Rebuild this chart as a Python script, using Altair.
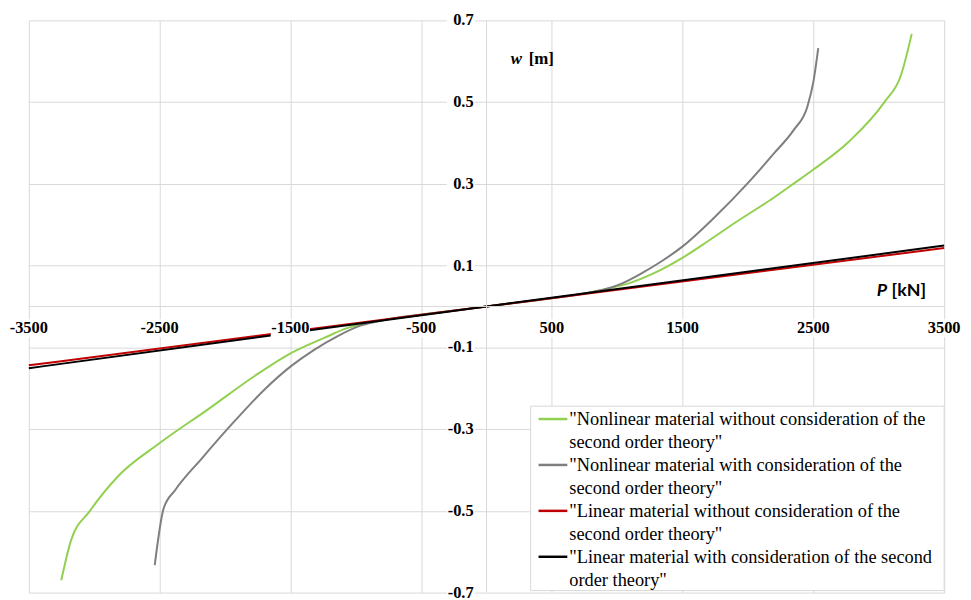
import altair as alt
import pandas as pd

# ---------------- data ----------------
SERIES = [
    '"Nonlinear material without consideration of the|second order theory"',
    '"Nonlinear material with consideration of the|second order theory"',
    '"Linear material without consideration of the|second order theory"',
    '"Linear material with consideration of the second|order theory"',
]
COLORS = ["#92D050", "#7F7F7F", "#C00000", "#000000"]

green_P = [-3252, -3176, -3037, -2810, -2507, -2127, -1773, -1495, -1242, -1066, -914, -700, -400, 0,
           400, 700, 932, 1083, 1285, 1488, 1690, 1892, 2196, 2347, 2500, 2777, 3043, 3169, 3252]
green_w = [-0.670, -0.571, -0.502, -0.413, -0.336, -0.251, -0.170, -0.114, -0.077, -0.053, -0.041, -0.029, -0.016, 0.0,
           0.016, 0.029, 0.044, 0.056, 0.082, 0.117, 0.159, 0.203, 0.266, 0.300, 0.335, 0.405, 0.500, 0.565, 0.667]

gray_P = [-2537, -2469, -2380, -2178, -1925, -1697, -1495, -1318, -1141, -965, -750, -400, 0,
          400, 679, 906, 1033, 1185, 1336, 1500, 1750, 1993, 2200, 2350, 2455, 2500, 2537]
gray_w = [-0.633, -0.494, -0.449, -0.372, -0.280, -0.203, -0.146, -0.106, -0.073, -0.047, -0.031, -0.016, 0.0,
          0.016, 0.028, 0.042, 0.056, 0.081, 0.110, 0.147, 0.220, 0.300, 0.375, 0.432, 0.490, 0.550, 0.632]

red_P = [-3500, 0, 3500]
red_w = [-0.144, 0.0, 0.143]

black_P = [-3500, 0, 3500]
black_w = [-0.151, 0.0, 0.149]

x_ticks = [-3500, -2500, -1500, -500, 500, 1500, 2500, 3500]
x_tick_labels = ["-3500", "-2500", "-1500", "-500", "500", "1500", "2500", "3500"]
y_ticks = [0.7, 0.5, 0.3, 0.1, -0.1, -0.3, -0.5, -0.7]
y_tick_labels = ["0.7", "0.5", "0.3", "0.1", "-0.1", "-0.3", "-0.5", "-0.7"]

# ---------------- tables ----------------
rows = []
for name, Ps, ws in zip(SERIES, [green_P, gray_P, red_P, black_P], [green_w, gray_w, red_w, black_w]):
    for p, w in zip(Ps, ws):
        rows.append({"series": name, "P": p, "w": w})
df = pd.DataFrame(rows)

xt = pd.DataFrame({"P": x_ticks, "lab": x_tick_labels})
yt = pd.DataFrame({"v": y_ticks, "lab": y_tick_labels})
leg = pd.DataFrame({"series": SERIES, "col": COLORS, "idx": list(range(len(SERIES)))})
one = pd.DataFrame({"k": [0]})

GRID = "#d9d9d9"
SERIF = "Liberation Serif"
W, H = 923, 577

xscale = alt.Scale(domain=[-3500, 3500], nice=False, zero=False)
yscale = alt.Scale(domain=[-0.7, 0.7], nice=False, zero=False)

lines = alt.Chart(df).mark_line(strokeWidth=2, interpolate="monotone").encode(
    x=alt.X("P:Q", scale=xscale,
            axis=alt.Axis(values=x_ticks, grid=True, labels=False, ticks=False, domain=False, title="")),
    y=alt.Y("w:Q", scale=yscale,
            axis=alt.Axis(values=y_ticks, grid=True, labels=False, ticks=False, domain=False, title="")),
    color=alt.Color("series:N", scale=alt.Scale(domain=SERIES, range=COLORS), legend=None),
)

zero_h = alt.Chart(one).mark_rule(color=GRID, strokeWidth=1).encode(
    y=alt.datum(0, scale=yscale))
zero_v = alt.Chart(one).mark_rule(color=GRID, strokeWidth=1).encode(
    x=alt.datum(0, scale=xscale))

xrect = alt.Chart(xt).mark_rect(color="white", yOffset=13, y2Offset=31).transform_calculate(
    x0="datum.P - 150", x1="datum.P + 150"
).encode(
    x=alt.X("x0:Q", scale=xscale), x2="x1:Q",
    y=alt.datum(0, scale=yscale), y2=alt.datum(0),
)
xlab = alt.Chart(xt).mark_text(font=SERIF, fontWeight="bold", fontSize=16.5,
                               color="black", dy=21.5, baseline="middle", align="center").encode(
    x=alt.X("P:Q", scale=xscale), y=alt.datum(0, scale=yscale), text="lab:N")

yrect = alt.Chart(yt).mark_rect(color="white", xOffset=-40, x2Offset=-12, yOffset=-9, y2Offset=9).encode(
    x=alt.datum(0, scale=xscale), x2=alt.datum(0),
    y=alt.Y("v:Q", scale=yscale), y2="v:Q",
)
ylab = alt.Chart(yt).mark_text(font=SERIF, fontWeight="bold", fontSize=16.5,
                               color="black", dx=-13, baseline="middle", align="right").encode(
    x=alt.datum(0, scale=xscale), y=alt.Y("v:Q", scale=yscale), text="lab:N")

t_w = alt.Chart(one).mark_text(text="w", font=SERIF, fontStyle="italic", fontWeight="bold",
                               fontSize=17, align="left", baseline="middle", color="black").encode(
    x=alt.value(486), y=alt.value(39))
t_m = alt.Chart(one).mark_text(text="[m]", font=SERIF, fontWeight="bold",
                               fontSize=17, align="left", baseline="middle", color="black").encode(
    x=alt.value(504), y=alt.value(39))
t_P = alt.Chart(one).mark_text(text="P", font="Lato", fontStyle="italic", fontWeight="bold",
                               fontSize=18, align="left", baseline="middle", color="black", dy=-16).encode(
    x=alt.value(855), y=alt.datum(0, scale=yscale))
t_kN = alt.Chart(one).mark_text(text="[kN]", font="Lato", fontWeight="bold",
                                fontSize=18, align="left", baseline="middle", color="black", dy=-16).encode(
    x=alt.value(870), y=alt.datum(0, scale=yscale))

# ---------------- legend (box, symbols, labels) ----------------
LEG_X, LEG_Y, LEG_X2, LEG_Y2 = 506, 389, 923, 575
leg_box = alt.Chart(one).mark_rect(fill="white", stroke=GRID, strokeWidth=1).encode(
    x=alt.value(LEG_X), x2=alt.value(LEG_X2), y=alt.value(LEG_Y), y2=alt.value(LEG_Y2))
leg_sym = alt.Chart(leg).mark_rule(strokeWidth=2.5).transform_calculate(
    ly="402 + datum.idx * 46.3"
).encode(
    x=alt.value(514), x2=alt.value(543),
    y=alt.Y("ly:Q", scale=None),
    color=alt.Color("col:N", scale=None),
)
leg_txt = alt.Chart(leg).mark_text(font=SERIF, fontSize=18.5, color="black",
                                   align="left", baseline="top", lineHeight=23).transform_calculate(
    ly="402 + datum.idx * 46.3 - 9", lines="split(datum.series, '|')"
).encode(
    x=alt.value(545),
    y=alt.Y("ly:Q", scale=None),
    text="lines:N",
)

chart = alt.layer(
    lines, zero_h, zero_v, xrect, yrect, xlab, ylab, t_w, t_m, t_P, t_kN,
    leg_box, leg_sym, leg_txt
).properties(
    width=W, height=H,
    autosize=alt.AutoSizeParams(type="none"),
    padding={"left": 21, "top": 10, "right": 19, "bottom": 5},
).configure_view(strokeWidth=0).configure_axis(gridColor=GRID, gridWidth=1)

chart.save("out.html", embed_options={"renderer": "svg", "actions": False})
